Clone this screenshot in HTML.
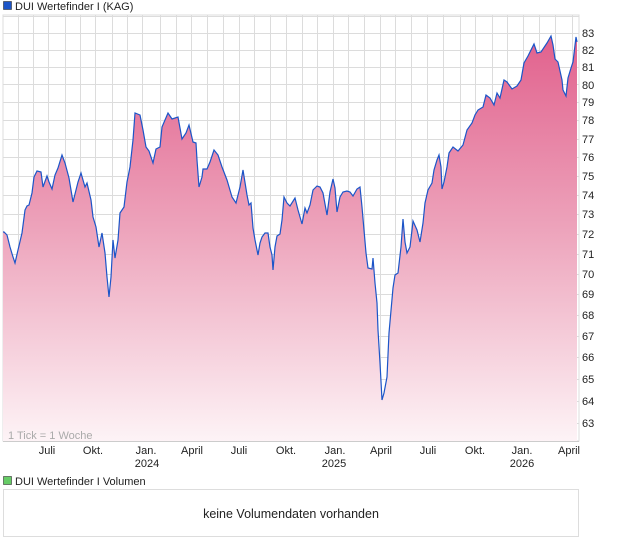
<!DOCTYPE html>
<html><head><meta charset="utf-8"><style>
body{margin:0;background:#fff;width:620px;height:546px;overflow:hidden;font-family:"Liberation Sans",sans-serif}
</style></head><body>
<svg width="620" height="546" xmlns="http://www.w3.org/2000/svg" font-family="Liberation Sans, sans-serif">
<defs><linearGradient id="g" x1="0" y1="15" x2="0" y2="441" gradientUnits="userSpaceOnUse">
<stop offset="0" stop-color="#e05a88"/><stop offset="0.5" stop-color="#eda3bb"/><stop offset="1" stop-color="#fdf3f6"/></linearGradient></defs>
<rect x="3" y="15" width="576" height="426" fill="#fff" stroke="#ddd"/>
<g stroke="#dcdcdc" stroke-width="1">
<path d="M18.5 15V441M33.5 15V441M48.5 15V441M65.5 15V441M80.5 15V441M95.5 15V441M112.5 15V441M127.5 15V441M142.5 15V441M160.5 15V441M176.5 15V441M191.5 15V441M207.5 15V441M223.5 15V441M239.5 15V441M254.5 15V441M270.5 15V441M286.5 15V441M302.5 15V441M317.5 15V441M333.5 15V441M348.5 15V441M364.5 15V441M380.5 15V441M395.5 15V441M411.5 15V441M427.5 15V441M443.5 15V441M460.5 15V441M475.5 15V441M492.5 15V441M507.5 15V441M523.5 15V441M539.5 15V441M555.5 15V441M572.5 15V441"/>
<path d="M3 16.5H579M3 33.5H579M3 50.5H579M3 67.5H579M3 84.5H579M3 102.5H579M3 120.5H579M3 139.5H579M3 157.5H579M3 176.5H579M3 195.5H579M3 214.5H579M3 234.5H579M3 254.5H579M3 274.5H579M3 294.5H579M3 315.5H579M3 336.5H579M3 357.5H579M3 379.5H579M3 401.5H579M3 423.5H579"/>
</g>
<polygon fill="url(#g)" points="3,441 3,232 4,232 7,235 10,247 13,257 15,263 18,250 22,233 25,210 27,206 29,205 32,193 34,177 37,171 41,172 43,187 47,176 49,182 52,189 55,175 58,168 62,155 65,163 69,178 73,202 78,182 81,173 85,187 87,183 91,200 93,217 96,227 99,247 102,233 105,253 107,277 109,297 111,277 113,240 115,258 118,240 120,213 124,207 127,182 130,167 133,140 135,113 140,115 143,130 146,147 149,151 153,163 156,149 160,147 162,127 168,113 172,119 178,117 182,139 186,133 189,125 193,142 196,143 197,160 199,187 202,177 203,169 207,169 210,162 214,150 218,155 222,167 227,180 232,197 236,203 240,187 243,170 247,195 249,205 251,203 253,228 255,240 258,255 260,243 262,237 265,233 268,233 270,247 272,255 273,270 275,247 277,236 280,234 282,220 284,197 287,203 290,206 295,198 298,210 302,224 305,208 307,213 310,205 313,190 317,186 320,187 323,193 327,215 330,192 333,179 335,188 337,212 340,197 343,192 347,191 350,192 353,196 357,189 360,187 362,207 364,230 366,253 368,268 372,269 373,258 375,283 377,303 378,330 380,363 382,400 384,393 387,377 389,333 393,288 395,275 398,273 401,247 403,219 405,242 407,253 410,247 412,230 413,221 417,230 420,242 423,223 425,203 428,190 432,183 434,170 437,160 439,155 441,167 442,189 444,182 447,167 449,153 453,147 458,151 463,145 467,130 472,123 475,115 478,110 483,107 486,95 490,98 494,105 497,93 500,98 504,80 507,82 512,89 517,86 521,80 524,63 528,56 534,44 537,53 541,52 547,43 551,36 553,45 555,59 558,62 562,80 563,90 566,96 568,78 571,68 573,62 576,37 577,42 577,441"/>
<polyline fill="none" stroke="#1c55c8" stroke-width="1.2" points="3,232 4,232 7,235 10,247 13,257 15,263 18,250 22,233 25,210 27,206 29,205 32,193 34,177 37,171 41,172 43,187 47,176 49,182 52,189 55,175 58,168 62,155 65,163 69,178 73,202 78,182 81,173 85,187 87,183 91,200 93,217 96,227 99,247 102,233 105,253 107,277 109,297 111,277 113,240 115,258 118,240 120,213 124,207 127,182 130,167 133,140 135,113 140,115 143,130 146,147 149,151 153,163 156,149 160,147 162,127 168,113 172,119 178,117 182,139 186,133 189,125 193,142 196,143 197,160 199,187 202,177 203,169 207,169 210,162 214,150 218,155 222,167 227,180 232,197 236,203 240,187 243,170 247,195 249,205 251,203 253,228 255,240 258,255 260,243 262,237 265,233 268,233 270,247 272,255 273,270 275,247 277,236 280,234 282,220 284,197 287,203 290,206 295,198 298,210 302,224 305,208 307,213 310,205 313,190 317,186 320,187 323,193 327,215 330,192 333,179 335,188 337,212 340,197 343,192 347,191 350,192 353,196 357,189 360,187 362,207 364,230 366,253 368,268 372,269 373,258 375,283 377,303 378,330 380,363 382,400 384,393 387,377 389,333 393,288 395,275 398,273 401,247 403,219 405,242 407,253 410,247 412,230 413,221 417,230 420,242 423,223 425,203 428,190 432,183 434,170 437,160 439,155 441,167 442,189 444,182 447,167 449,153 453,147 458,151 463,145 467,130 472,123 475,115 478,110 483,107 486,95 490,98 494,105 497,93 500,98 504,80 507,82 512,89 517,86 521,80 524,63 528,56 534,44 537,53 541,52 547,43 551,36 553,45 555,59 558,62 562,80 563,90 566,96 568,78 571,68 573,62 576,37 577,42"/>
<line x1="3" y1="441.5" x2="579" y2="441.5" stroke="#ccc"/>
<g font-size="11" fill="#222">
<rect x="3.5" y="1.5" width="8" height="8" fill="#1c55c8" stroke="#333" stroke-width="0.6"/>
<text x="15" y="10">DUI Wertefinder I (KAG)</text>
<text x="582" y="37">83</text><text x="582" y="54">82</text><text x="582" y="71">81</text><text x="582" y="89">80</text><text x="582" y="106">79</text><text x="582" y="124">78</text><text x="582" y="143">77</text><text x="582" y="161">76</text><text x="582" y="180">75</text><text x="582" y="199">74</text><text x="582" y="218">73</text><text x="582" y="238">72</text><text x="582" y="258">71</text><text x="582" y="278">70</text><text x="582" y="298">69</text><text x="582" y="319">68</text><text x="582" y="340">67</text><text x="582" y="361">66</text><text x="582" y="383">65</text><text x="582" y="405">64</text><text x="582" y="427">63</text>
<text x="8" y="439" fill="#aaa">1 Tick = 1 Woche</text>
<g text-anchor="middle">
<text x="47" y="454">Juli</text><text x="93" y="454">Okt.</text><text x="146" y="454">Jan.</text><text x="192" y="454">April</text><text x="239" y="454">Juli</text><text x="286" y="454">Okt.</text><text x="335" y="454">Jan.</text><text x="381" y="454">April</text><text x="428" y="454">Juli</text><text x="475" y="454">Okt.</text><text x="522" y="454">Jan.</text><text x="569" y="454">April</text>
<text x="147" y="467">2024</text><text x="334" y="467">2025</text><text x="522" y="467">2026</text>
</g>
<rect x="3.5" y="476.5" width="8" height="8" fill="#6c6" stroke="#333" stroke-width="0.6"/>
<text x="15" y="485">DUI Wertefinder I Volumen</text>
</g>
<rect x="3.5" y="489.5" width="575" height="47" fill="#fff" stroke="#ddd"/>
<text x="291" y="518" font-size="12.5" text-anchor="middle" fill="#222">keine Volumendaten vorhanden</text>
</svg>
</body></html>
